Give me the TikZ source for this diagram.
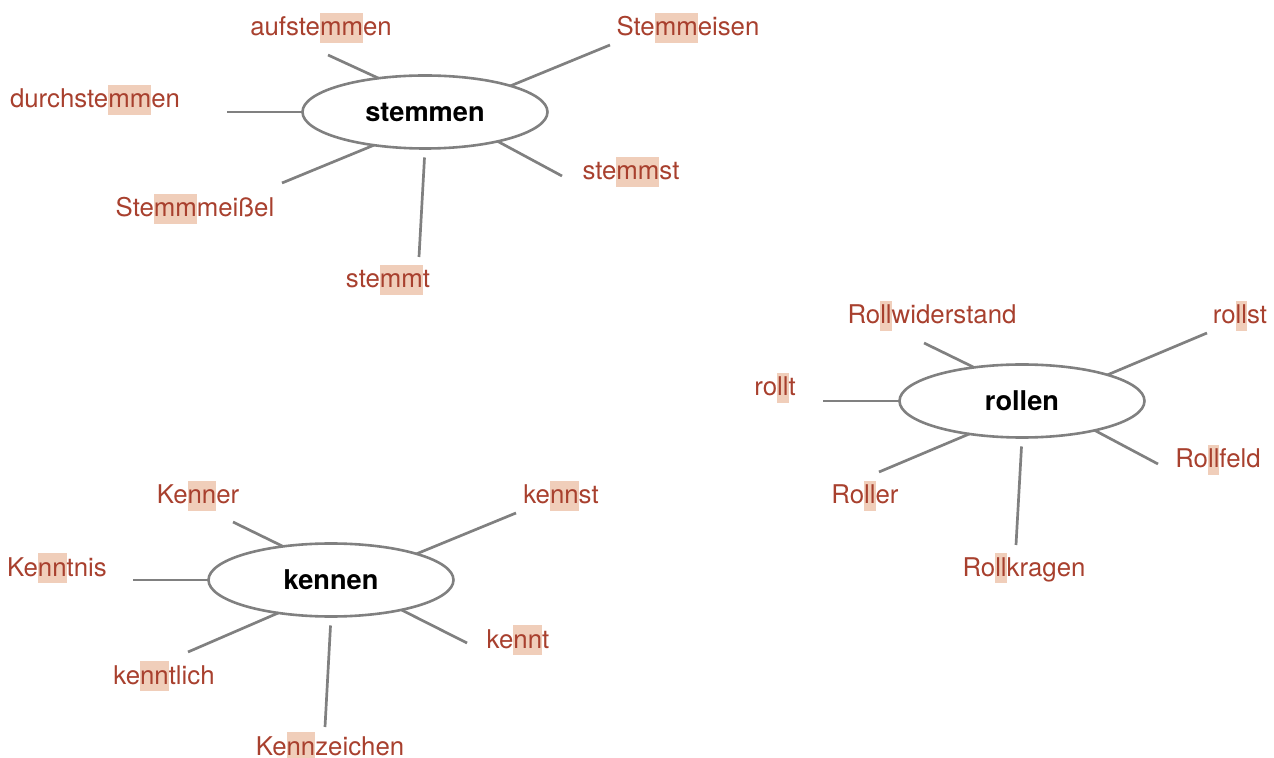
\documentclass[tikz,border=0pt]{standalone}
\usepackage{fontspec}
\setmainfont{TeX Gyre Heros}
\usetikzlibrary{shapes.geometric}
\definecolor{wortrot}{RGB}{168,64,46}
\definecolor{hlbg}{RGB}{240,206,186}
\definecolor{speiche}{RGB}{128,128,128}
\newcommand{\hl}[1]{{\setlength{\fboxsep}{0pt}\colorbox{hlbg}{\rule[-3.5pt]{0pt}{15pt}#1}}}

\begin{document}
\begin{tikzpicture}[x=0.5pt,y=-0.5pt,
    stamm/.style={ellipse,draw=speiche,line width=1.3pt,minimum width=122.5pt,minimum height=36.5pt,
      inner sep=0pt,outer sep=0pt,font=\fontsize{13.6}{15}\selectfont\bfseries},
    wort/.style={anchor=base,inner sep=0pt,text=wortrot,font=\fontsize{12.9}{15}\selectfont},
    spoke/.style={draw=speiche,line width=1.35pt}]
  \useasboundingbox (0,0) rectangle (1274,758);

  \node[stamm] (stem) at (425,112) {stemmen};
  \node[stamm] (roll) at (1022,401) {rollen};
  \node[stamm] (kenn) at (331,580) {kennen};

  \node[wort] (aufst)   at (321,36)  {aufste\hl{mm}en};
  \node[wort] (eisen)   at (688,36)  {Ste\hl{mm}eisen};
  \node[wort] (durch)   at (95,108)  {durchste\hl{mm}en};
  \node[wort] (mmst)    at (631,180) {ste\hl{mm}st};
  \node[wort] (meissel) at (195,217) {Ste\hl{mm}meißel};
  \node[wort] (mmt)     at (388,288) {ste\hl{mm}t};

  \node[wort] (wider)   at (932,324)  {Ro\hl{ll}widerstand};
  \node[wort] (llst)    at (1240,324) {ro\hl{ll}st};
  \node[wort] (llt)     at (775,396)  {ro\hl{ll}t};
  \node[wort] (feld)    at (1218,468) {Ro\hl{ll}feld};
  \node[wort] (roller)  at (865,504)  {Ro\hl{ll}er};
  \node[wort] (kragen)  at (1024,576) {Ro\hl{ll}kragen};

  \node[wort] (kenner)  at (198,504) {Ke\hl{nn}er};
  \node[wort] (nnst)    at (561,504) {ke\hl{nn}st};
  \node[wort] (tnis)    at (57,576)  {Ke\hl{nn}tnis};
  \node[wort] (nnt)     at (518,648) {ke\hl{nn}t};
  \node[wort] (tlich)   at (164,684) {ke\hl{nn}tlich};
  \node[wort] (zeichen) at (330,755) {Ke\hl{nn}zeichen};

  \coordinate (aufst-e)   at (328,55);
  \coordinate (eisen-e)   at (610,45);
  \coordinate (durch-e)   at (227,112);
  \coordinate (mmst-e)    at (562,176);
  \coordinate (meissel-e) at (282,183);
  \coordinate (mmt-e)     at (419,257);

  \coordinate (wider-e)   at (924,343);
  \coordinate (llst-e)    at (1207,333);
  \coordinate (llt-e)     at (823,401);
  \coordinate (feld-e)    at (1158,464);
  \coordinate (roller-e)  at (879,472);
  \coordinate (kragen-e)  at (1016,545);

  \coordinate (kenner-e)  at (233,522);
  \coordinate (nnst-e)    at (516,513);
  \coordinate (tnis-e)    at (133,580);
  \coordinate (nnt-e)     at (467,643);
  \coordinate (tlich-e)   at (188,652);
  \coordinate (zeichen-e) at (325,727);

  \path[spoke]
    (stem.144) edge (aufst-e)
    (stem.17)  edge (eisen-e)
    (stem.180) edge (durch-e)
    (stem.-22) edge (mmst-e)
    (stem.213) edge (meissel-e)
    (stem.south) edge[shorten <=4.5pt] (mmt-e);
  \path[spoke]
    (roll.145) edge (wider-e)
    (roll.17)  edge (llst-e)
    (roll.180) edge (llt-e)
    (roll.-22) edge (feld-e)
    (roll.212) edge (roller-e)
    (roll.south) edge[shorten <=4.5pt] (kragen-e);
  \path[spoke]
    (kenn.145) edge (kenner-e)
    (kenn.17)  edge (nnst-e)
    (kenn.180) edge (tnis-e)
    (kenn.-23) edge (nnt-e)
    (kenn.212) edge (tlich-e)
    (kenn.south) edge[shorten <=4.5pt] (zeichen-e);
\end{tikzpicture}
\end{document}
